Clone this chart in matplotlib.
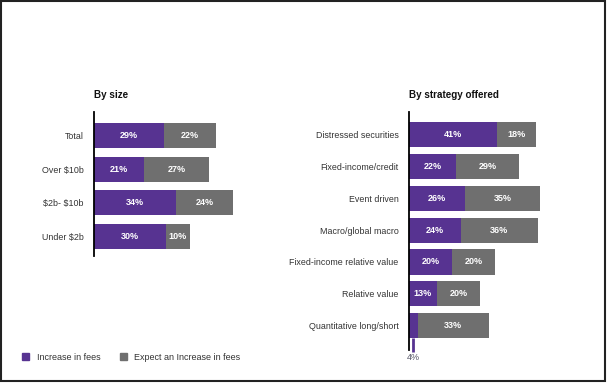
import matplotlib
matplotlib.use("Agg")
import matplotlib.pyplot as plt
from matplotlib.patches import Patch, Rectangle

plt.rcParams["font.family"] = ["Liberation Sans Narrow", "Liberation Sans", "DejaVu Sans"]

PURPLE = "#573391"
GRAY = "#6f6f6f"

size_labels = ["Total", "Over \\$10b", "\\$2b- \\$10b", "Under \\$2b"]
size_increase = [29, 21, 34, 30]
size_expect = [22, 27, 24, 10]

strategy_labels = [
    "Distressed securities",
    "Fixed-income/credit",
    "Event driven",
    "Macro/global macro",
    "Fixed-income relative value",
    "Relative value",
    "Quantitative long/short",
]
strategy_increase = [41, 22, 26, 24, 20, 13, 4]
strategy_expect = [18, 29, 35, 36, 20, 20, 33]

W, H = 608, 383


def draw_panel(ax, labels, inc, exp, title, bar_h, min_inside=6):
    y = list(range(len(labels)))
    ax.barh(y, inc, height=bar_h, color=PURPLE, zorder=2)
    ax.barh(y, exp, left=inc, height=bar_h, color=GRAY, zorder=2)

    for yi, a, b in zip(y, inc, exp):
        if a >= min_inside:
            ax.text(a / 2, yi, f"{a}%", ha="center", va="center",
                    color="white", fontsize=6.5, fontweight="bold")
        else:
            # small value: leader line below the bar with label
            ax.plot([a / 2, a / 2], [yi + bar_h / 2, yi + 0.82], color=PURPLE,
                    lw=2, clip_on=False, solid_capstyle="butt")
            ax.text(a / 2, yi + 1.02, f"{a}%", ha="center", va="center",
                    color="#555566", fontsize=6.5, clip_on=False)
        ax.text(a + b / 2, yi, f"{b}%", ha="center", va="center",
                color="white", fontsize=6.5, fontweight="bold")

    ax.set_yticks(y)
    ax.set_yticklabels(labels, fontsize=6.4, color="#333333")
    ax.tick_params(axis="y", length=0, pad=7.5)
    ax.set_xticks([])
    for s in ["top", "right", "bottom"]:
        ax.spines[s].set_visible(False)
    ax.spines["left"].set_linewidth(1.3)
    ax.spines["left"].set_color("black")
    ax.spines["left"].set_zorder(3)
    ax.set_title(title, loc="left", fontsize=7.1, fontweight="bold",
                 pad=10, color="#111111")


fig = plt.figure(figsize=(W / 100, H / 100), dpi=100)

# left panel: By size
ax1 = fig.add_axes([94 / W, (H - 256) / H, 144 / W, 144 / H])
draw_panel(ax1, size_labels, size_increase, size_expect, "By size", 0.74)
ax1.set_xlim(0, 60)
ax1.set_ylim(3.58, -0.70)

# right panel: By strategy offered
ax2 = fig.add_axes([409 / W, (H - 350) / H, 150.5 / W, 238 / H])
draw_panel(ax2, strategy_labels, strategy_increase, strategy_expect,
           "By strategy offered", 0.79)
ax2.set_xlim(0, 70)
ax2.set_ylim(6.77, -0.72)

handles = [Patch(color=PURPLE, label="Increase in fees"),
           Patch(color=GRAY, label="Expect an Increase in fees")]
fig.legend(handles=handles, loc="center left", bbox_to_anchor=(14 / W, 1 - 357 / H),
           ncol=2, frameon=False, fontsize=6.5, handlelength=0.8, handleheight=0.8,
           columnspacing=2.2, handletextpad=0.8, labelcolor="#333333")

fig.patches.append(Rectangle((0.0015, 0.004), 0.9935, 0.993, transform=fig.transFigure,
                             fill=False, edgecolor="#222222", linewidth=1.5))

fig.savefig("out.png", dpi=100)
